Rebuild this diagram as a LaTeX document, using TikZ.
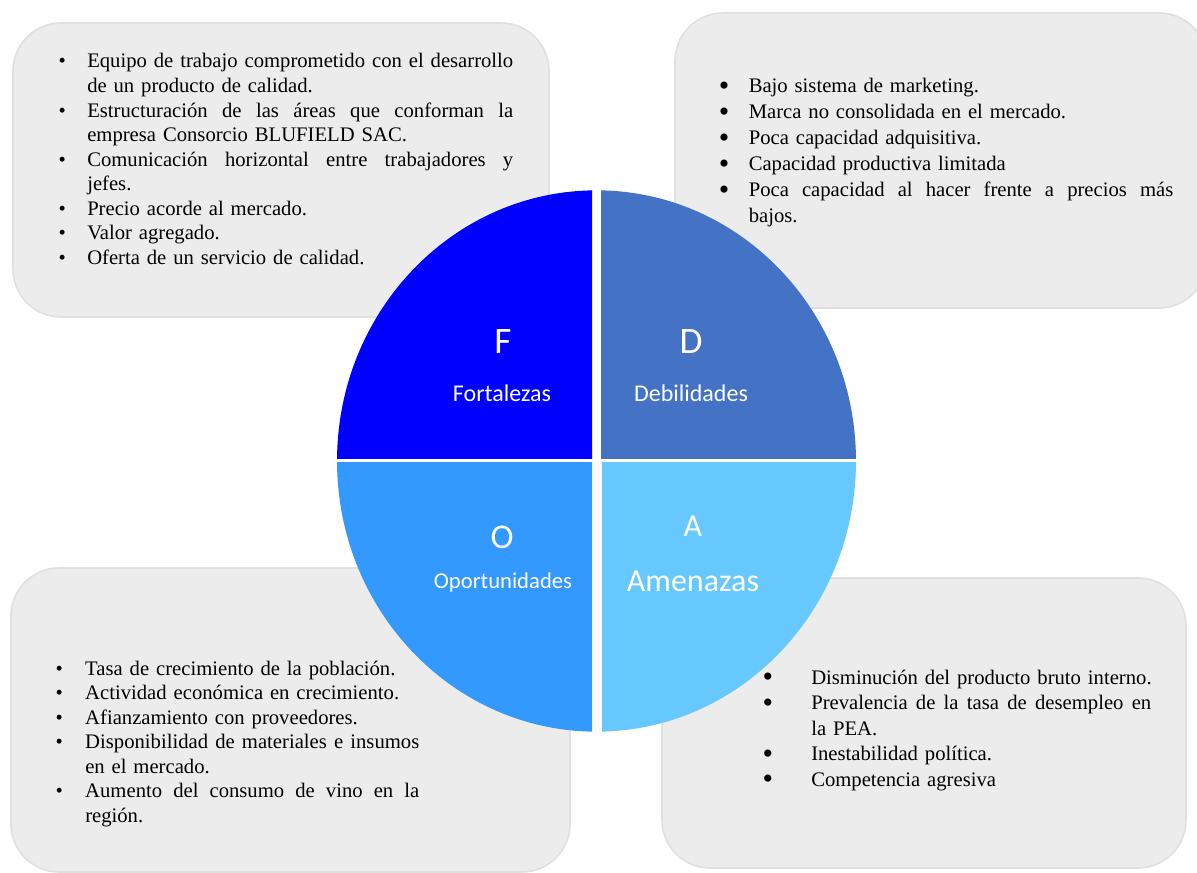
\documentclass[tikz,border=0pt]{standalone}
\usepackage{fontspec}
\usepackage{graphicx}
\setmainfont{Liberation Serif}
\newfontfamily\labelfont{Carlito}

\definecolor{quadF}{RGB}{0,0,255}
\definecolor{quadD}{RGB}{68,114,196}
\definecolor{quadO}{RGB}{51,153,255}
\definecolor{quadA}{RGB}{102,200,252}
\definecolor{panelfill}{RGB}{236,236,236}
\definecolor{panelline}{RGB}{224,224,224}

% bullet hung to the left of the text start
\newcommand{\bl}[2]{\leavevmode\llap{\makebox[0pt][c]{#2}\hspace{#1}}}
% a justified line of a given width; word gaps are marked with \hfill
\newcommand{\jline}[2]{\makebox[#1][l]{#2}}
\newcommand{\bigdot}{\raisebox{-0.12em}{\scalebox{1.45}{\textbullet}}}

\tikzset{
  panel/.style={fill=panelfill, draw=panelline, line width=1.2pt, rounded corners=36pt},
  paneltext/.style={anchor=base west, inner sep=0pt, align=left},
  quadlabel/.style={anchor=base, inner sep=0pt, text=white},
}

\begin{document}
\begin{tikzpicture}[x=0.75pt, y=-0.75pt]
\useasboundingbox (0,0) rectangle (1197,873);
\fill[white] (0,0) rectangle (1197,873);

% the four text panels
\draw[panel] (13,23) rectangle (549,317);
\draw[panel] (675,13) rectangle (1207,308);
\draw[panel] (11,568) rectangle (570,872);
\draw[panel] (662,578) rectangle (1186,868);

% the quartered disc
\def\cx{596.5}
\def\cy{461}
\begin{scope}
  \clip (320,170) rectangle (592,459);
  \fill[quadF] (\cx,\cy) ellipse [x radius=194.6pt, y radius=203pt];
\end{scope}
\begin{scope}
  \clip (601,170) rectangle (880,459);
  \fill[quadD] (\cx,\cy) ellipse [x radius=194.6pt, y radius=203pt];
\end{scope}
\begin{scope}
  \clip (320,462.5) rectangle (592,760);
  \fill[quadO] (\cx,\cy) ellipse [x radius=194.6pt, y radius=203pt];
\end{scope}
\begin{scope}
  \clip (602,462.5) rectangle (880,760);
  \fill[quadA] (\cx,\cy) ellipse [x radius=194.6pt, y radius=203pt];
\end{scope}

% quadrant labels
\node[quadlabel, font=\labelfont\fontsize{28pt}{28pt}\selectfont] (fl) at (503,354) {F};
\node[quadlabel, font=\labelfont\fontsize{18pt}{18pt}\selectfont] (fw) at (502,401.5) {Fortalezas};
\node[quadlabel, font=\labelfont\fontsize{28pt}{28pt}\selectfont] (dl) at (691,354) {D};
\node[quadlabel, font=\labelfont\fontsize{18pt}{18pt}\selectfont] (dw) at (691,401.5) {Debilidades};
\node[quadlabel, font=\labelfont\fontsize{26pt}{26pt}\selectfont] (ol) at (502,549) {O};
\node[quadlabel, font=\labelfont\fontsize{17pt}{17pt}\selectfont] (ow) at (503,589) {Oportunidades};
\node[quadlabel, font=\labelfont\fontsize{24pt}{24pt}\selectfont] (al) at (693,537) {A};
\node[quadlabel, font=\labelfont\fontsize{24pt}{24pt}\selectfont] (aw) at (693,591) {Amenazas};

% strengths
\node[paneltext, text width=320pt, font=\fontsize{15.5pt}{18.4pt}\selectfont] (ftext) at (87,68) {%
\bl{18.75pt}{\textbullet}\jline{319.5pt}{Equipo\hfill de\hfill trabajo\hfill comprometido\hfill con\hfill el\hfill desarrollo}\\
\mbox{de un producto de calidad.}\\
\bl{18.75pt}{\textbullet}\jline{319.5pt}{Estructuración\hfill de\hfill las\hfill áreas\hfill que\hfill conforman\hfill la}\\
\mbox{empresa Consorcio BLUFIELD SAC.}\\
\bl{18.75pt}{\textbullet}\jline{319.5pt}{Comunicación\hfill horizontal\hfill entre\hfill trabajadores\hfill y}\\
\mbox{jefes.}\\
\bl{18.75pt}{\textbullet}\mbox{Precio acorde al mercado.}\\
\bl{18.75pt}{\textbullet}\mbox{Valor agregado.}\\
\bl{18.75pt}{\textbullet}\mbox{Oferta de un servicio de calidad.}};

% weaknesses
\node[paneltext, text width=320pt, font=\fontsize{15.5pt}{19.5pt}\selectfont] (dtext) at (748.5,93) {%
\bl{18.4pt}{\bigdot}\mbox{Bajo sistema de marketing.}\\
\bl{18.4pt}{\bigdot}\mbox{Marca no consolidada en el mercado.}\\
\bl{18.4pt}{\bigdot}\mbox{Poca capacidad adquisitiva.}\\
\bl{18.4pt}{\bigdot}\mbox{Capacidad productiva limitada}\\
\bl{18.4pt}{\bigdot}\jline{318.4pt}{Poca\hfill capacidad\hfill al\hfill hacer\hfill frente\hfill a\hfill precios\hfill más}\\
\mbox{bajos.}};

% opportunities
\node[paneltext, text width=252pt, font=\fontsize{15.5pt}{18.4pt}\selectfont] (otext) at (85,675) {%
\bl{19.5pt}{\textbullet}\mbox{Tasa de crecimiento de la población.}\\
\bl{19.5pt}{\textbullet}\mbox{Actividad económica en crecimiento.}\\
\bl{19.5pt}{\textbullet}\mbox{Afianzamiento con proveedores.}\\
\bl{19.5pt}{\textbullet}\jline{250.5pt}{Disponibilidad\hfill de\hfill materiales\hfill e\hfill insumos}\\
\mbox{en el mercado.}\\
\bl{19.5pt}{\textbullet}\jline{250.5pt}{Aumento\hfill del\hfill consumo\hfill de\hfill vino\hfill en\hfill la}\\
\mbox{región.}};

% threats
\node[paneltext, text width=256pt, font=\fontsize{15.5pt}{19.2pt}\selectfont] (atext) at (811,684) {%
\bl{32.6pt}{\bigdot}\mbox{Disminución del producto bruto interno.}\\
\bl{32.6pt}{\bigdot}\jline{255pt}{Prevalencia\hfill de\hfill la\hfill tasa\hfill de\hfill desempleo\hfill en}\\
\mbox{la PEA.}\\
\bl{32.6pt}{\bigdot}\mbox{Inestabilidad política.}\\
\bl{32.6pt}{\bigdot}\mbox{Competencia agresiva}};
\end{tikzpicture}
\end{document}
